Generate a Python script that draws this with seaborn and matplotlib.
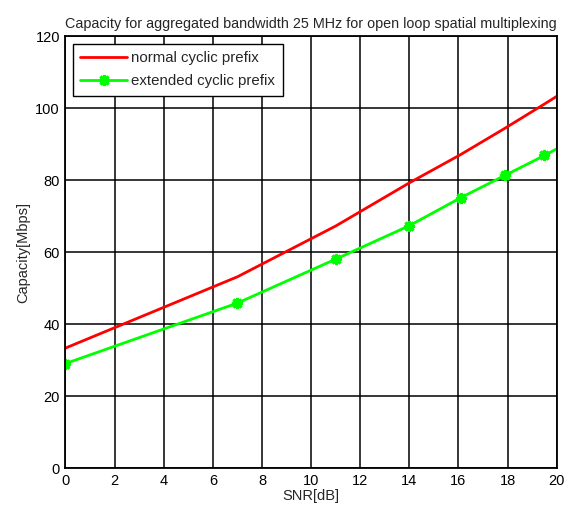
import matplotlib
matplotlib.use("Agg")
import matplotlib.pyplot as plt
import seaborn as sns
import pandas as pd

snr_normal = [0, 7, 11, 14, 16.1, 17.9, 19.5, 21]
cap_normal = [33.4, 53.2, 67.3, 79.3, 87.2, 94.5, 101.2, 107.6]
snr_ext = [0, 7, 11, 14, 16.1, 17.9, 19.5, 21]
cap_ext = [29.1, 45.9, 58.1, 67.4, 75.2, 81.4, 86.9, 92.5]
xticks = list(range(0, 21, 2))
yticks = list(range(0, 121, 20))

sns.set_style("white")
plt.rcParams['font.family'] = ['Liberation Sans', 'DejaVu Sans']

fig = plt.figure(figsize=(5.71, 5.12), dpi=100)
ax = fig.add_axes([0.1147, 0.0854, 0.975 - 0.1147, 0.929 - 0.0854])

df_n = pd.DataFrame({"snr": snr_normal, "cap": cap_normal})
df_e = pd.DataFrame({"snr": snr_ext, "cap": cap_ext})

sns.lineplot(data=df_n, x="snr", y="cap", ax=ax, color="#ff0000", lw=2,
             label="normal cyclic prefix", sort=False)
sns.lineplot(data=df_e, x="snr", y="cap", ax=ax, color="#00ff00", lw=2,
             marker=(8, 2, 0), markersize=8, markeredgewidth=2.2,
             markeredgecolor="#00ff00", label="extended cyclic prefix", sort=False)

ax.set_xlim(0, 20)
ax.set_ylim(0, 120)
ax.set_xticks(xticks)
ax.set_yticks(yticks)
ax.grid(True, color="black", lw=1.1, ls="-")
ax.set_axisbelow(True)
for s in ax.spines.values():
    s.set_color("black")
    s.set_linewidth(1.3)
ax.tick_params(axis="both", labelsize=10.5, colors="black", length=0, pad=4)
ax.set_xlabel("SNR[dB]", fontsize=10.5, labelpad=1)
ax.set_ylabel("Capacity[Mbps]", fontsize=10.5, labelpad=4)
ax.set_title("Capacity for aggregated bandwidth 25 MHz for open loop spatial multiplexing",
             fontsize=10.4, pad=6)

leg = ax.legend(loc="upper left", fontsize=10.8, frameon=True, fancybox=False,
                edgecolor="black", framealpha=1, handlelength=3.1,
                borderaxespad=0.5, borderpad=0.5, labelspacing=0.6,
                handletextpad=0.3)
leg.get_frame().set_linewidth(1.0)

fig.savefig("out.png", dpi=100)
